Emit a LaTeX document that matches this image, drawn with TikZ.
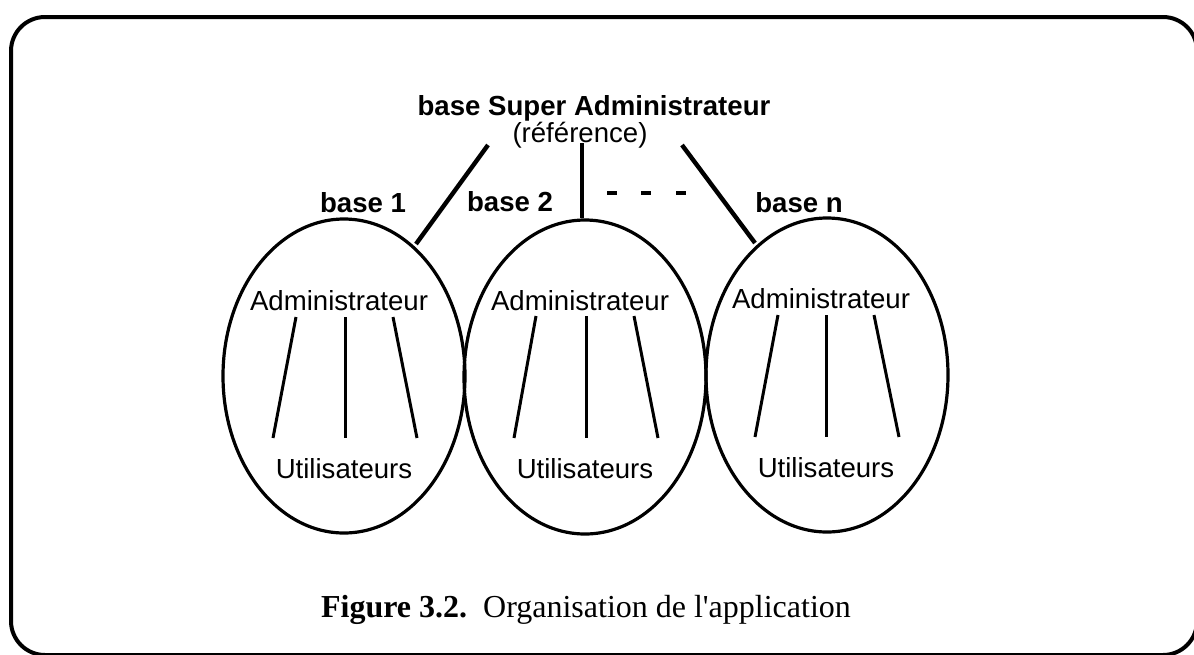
\documentclass[tikz,border=0pt]{standalone}
\usepackage{fontspec}
\setmainfont{Liberation Sans}
\newfontfamily\capfont{Liberation Serif}
\usetikzlibrary{shapes.geometric}
\begin{document}
\begin{tikzpicture}[x=0.5pt,y=-0.5pt,
  txt/.style={font=\fontsize{13.8}{16}\selectfont, inner sep=0pt, anchor=base},
  btxt/.style={font=\fontsize{13.8}{16}\selectfont\bfseries, inner sep=0pt, anchor=base},
  bubble/.style={draw, ellipse, line width=1.6pt, minimum width=121pt, minimum height=157pt, inner sep=0pt},
  link/.style={line width=2.2pt},
  sub/.style={line width=1.5pt},
  dashmark/.style={line width=2pt}]
\useasboundingbox (0,0) rectangle (1194,654);
\clip (0,0) rectangle (1194,654);
% frame
\draw[line width=2pt, rounded corners=17pt] (11,17) rectangle (1197,655);
% bases
\node[bubble] (e1) at (344,376) {};
\node[bubble] (e2) at (585,377) {};
\node[bubble] (e3) at (827,375) {};
% texts
\node[btxt] (sup) at (594,115) {base Super Administrateur};
\node[txt] (ref) at (580,142) {(référence)};
\node[btxt] (b1) at (363,212) {base 1};
\node[btxt] (b2) at (510,211) {base 2};
\node[btxt] (bn) at (799,212) {base n};
\node[txt] (a1) at (339,310) {Administrateur};
\node[txt] (a2) at (580,310) {Administrateur};
\node[txt] (a3) at (821,308) {Administrateur};
\node[txt] (u1) at (344,478) {Utilisateurs};
\node[txt] (u2) at (585,478) {Utilisateurs};
\node[txt] (u3) at (826,477) {Utilisateurs};
% links from the super base
\coordinate (s1) at (488,145); \coordinate (t1) at (416,244);
\coordinate (s2) at (582,143); \coordinate (t2) at (582,218);
\coordinate (s3) at (682,145); \coordinate (t3) at (755,243);
\draw[link] (s1) -- (t1);
\draw[link] (s2) -- (t2);
\draw[link] (s3) -- (t3);
% dashes
\draw[dashmark] (607,193) -- (617,193);
\draw[dashmark] (641,193) -- (651,193);
\draw[dashmark] (676,193) -- (686,193);
% admin -> users lines
\foreach \i/\ty/\by/\la/\lb/\ma/\ra/\rb in {1/317/438/296/273/345/393/417, 2/316/438/536/514/586/634/658, 3/315/437/778/755/826/874/899}{
  \coordinate (p\i l) at (\la,\ty); \coordinate (q\i l) at (\lb,\by);
  \coordinate (p\i m) at (\ma,\ty); \coordinate (q\i m) at (\ma,\by);
  \coordinate (p\i r) at (\ra,\ty); \coordinate (q\i r) at (\rb,\by);
  \draw[sub] (p\i l) -- (q\i l);
  \draw[sub] (p\i m) -- (q\i m);
  \draw[sub] (p\i r) -- (q\i r);
}
% caption
\node[anchor=base, inner sep=0pt, font=\capfont\fontsize{16}{19}\selectfont] (cap) at (586,617) {\textbf{Figure 3.2.}\hspace{0.5em}Organisation de l\textquotesingle application};
\end{tikzpicture}
\end{document}
